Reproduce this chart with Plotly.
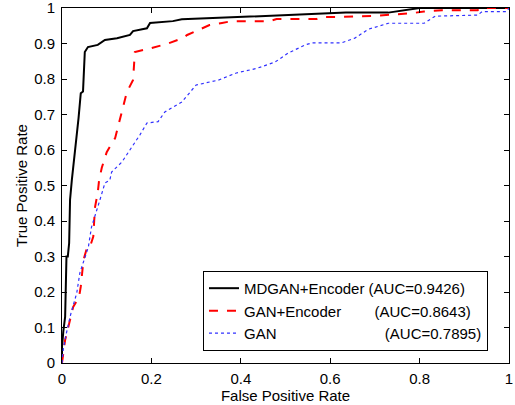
import plotly.graph_objects as go

# ROC data
black_fpr = [0, 0.0, 0.003, 0.005, 0.007, 0.01, 0.013, 0.016, 0.018, 0.022, 0.029, 0.037, 0.042, 0.047,
             0.051, 0.058, 0.08, 0.096, 0.123, 0.152, 0.159, 0.19, 0.197, 0.248, 0.268, 0.43, 0.50,
             0.56, 0.635, 0.73, 0.77, 0.80, 1.0]
black_tpr = [0, 0.045, 0.09, 0.12, 0.13, 0.3, 0.3, 0.338, 0.46, 0.515, 0.594, 0.69, 0.76, 0.765,
             0.876, 0.89, 0.896, 0.91, 0.915, 0.924, 0.935, 0.943, 0.958, 0.963, 0.968, 0.977, 0.98,
             0.983, 0.987, 0.987, 0.994, 1.0, 1.0]

red_fpr = [0, 0.003, 0.007, 0.012, 0.018, 0.025, 0.038, 0.042, 0.048, 0.056, 0.062, 0.07, 0.072,
           0.074, 0.08, 0.083, 0.089, 0.1, 0.119, 0.134, 0.145, 0.159, 0.163, 0.2, 0.237, 0.27,
           0.28, 0.309, 0.33, 0.358, 0.38, 0.465, 0.48, 0.57, 0.584, 0.615, 0.7, 0.78, 0.81, 0.85,
           0.93, 0.935, 1.0]
red_tpr = [0, 0.03, 0.065, 0.09, 0.12, 0.158, 0.185, 0.215, 0.29, 0.325, 0.325, 0.356, 0.4,
           0.44, 0.48, 0.515, 0.55, 0.594, 0.634, 0.707, 0.763, 0.797, 0.876, 0.887, 0.9, 0.915,
           0.924, 0.94, 0.952, 0.958, 0.963, 0.963, 0.969, 0.969, 0.975, 0.975, 0.978, 0.985,
           0.99, 0.994, 0.994, 1.0, 1.0]

blue_fpr = [0, 0.003, 0.01, 0.02, 0.033, 0.04, 0.059, 0.066, 0.085, 0.096, 0.107, 0.111, 0.134,
            0.156, 0.174, 0.19, 0.215, 0.23, 0.268, 0.3, 0.35, 0.39, 0.436, 0.477, 0.506, 0.544,
            0.56, 0.626, 0.655, 0.685, 0.73, 0.81, 0.835, 0.93, 0.94, 0.995, 1.0]
blue_tpr = [0, 0.04, 0.085, 0.14, 0.197, 0.254, 0.327, 0.383, 0.46, 0.507, 0.515, 0.538, 0.566,
            0.606, 0.642, 0.676, 0.68, 0.707, 0.735, 0.783, 0.797, 0.817, 0.83, 0.848, 0.873, 0.896,
            0.902, 0.902, 0.915, 0.94, 0.957, 0.957, 0.977, 0.98, 0.99, 0.99, 1.0]

labels = ["MDGAN+Encoder", "GAN+Encoder", "GAN"]
aucs = ["0.9426", "0.8643", "0.7895"]
pads = [1, 8, 26]

x_ticks = [0, 0.2, 0.4, 0.6, 0.8, 1]
x_ticktext = ["0", "0.2", "0.4", "0.6", "0.8", "1"]
y_ticks = [0, 0.1, 0.2, 0.3, 0.4, 0.5, 0.6, 0.7, 0.8, 0.9, 1]
y_ticktext = ["0", "0.1", "0.2", "0.3", "0.4", "0.5", "0.6", "0.7", "0.8", "0.9", "1"]

names = [f"{l}{chr(160) * p}(AUC={a})" for l, a, p in zip(labels, aucs, pads)]

fig = go.Figure()
fig.add_trace(go.Scatter(x=black_fpr, y=black_tpr, mode="lines", name=names[0],
                         line=dict(color="black", width=2)))
fig.add_trace(go.Scatter(x=red_fpr, y=red_tpr, mode="lines", name=names[1],
                         line=dict(color="red", width=2, dash="dash")))
fig.add_trace(go.Scatter(x=blue_fpr, y=blue_tpr, mode="lines", name=names[2],
                         line=dict(color="#3030ff", width=1.2, dash="dot")))

font = dict(family="Liberation Sans, Arial, sans-serif", size=15, color="black")
axis_common = dict(showline=True, linecolor="black", linewidth=1, mirror="ticks",
                   ticks="inside", ticklen=5, tickcolor="black", tickwidth=1,
                   showgrid=False, zeroline=False, tickfont=font, automargin=False,
                   ticklabeloverflow="allow")

fig.update_layout(
    width=515, height=405,
    margin=dict(l=62, r=6, t=8, b=42),
    paper_bgcolor="white", plot_bgcolor="white",
    font=font,
    showlegend=True,
    legend=dict(x=0.953, y=0.034, xanchor="right", yanchor="bottom",
                bordercolor="black", borderwidth=1, bgcolor="white",
                font=font, tracegroupgap=0),
    xaxis=dict(range=[0, 1], tickvals=x_ticks, ticktext=x_ticktext, ticklabelstandoff=2,
               title=dict(text="False Positive Rate", font=font, standoff=0), **axis_common),
    yaxis=dict(range=[0, 1], tickvals=y_ticks, ticktext=y_ticktext, ticklabelstandoff=3,
               title=dict(text="True Positive Rate", font=font, standoff=2), **axis_common),
)

fig.write_html("out.html", config={"displayModeBar": False},
               post_script="document.body.style.margin='0';")
